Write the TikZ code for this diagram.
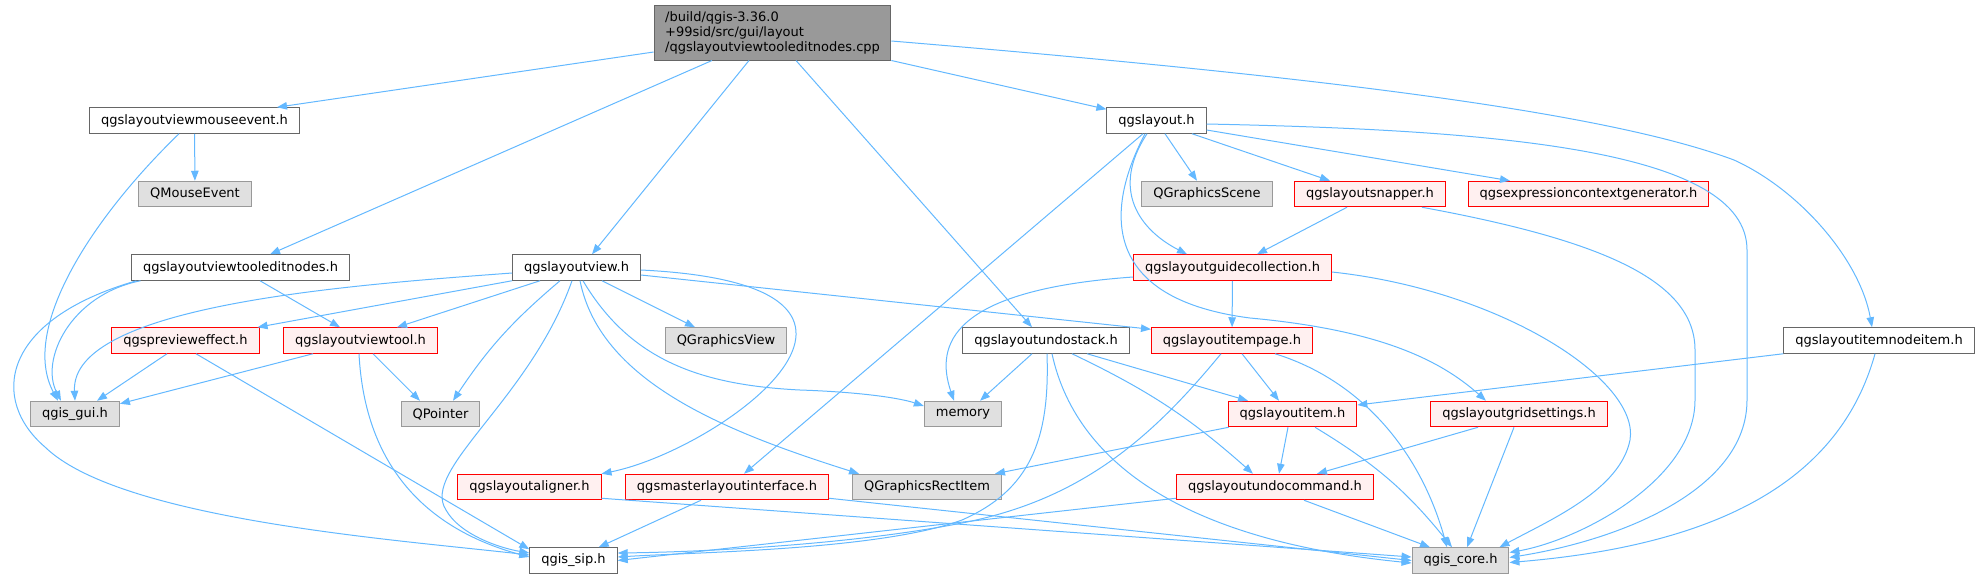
\documentclass[tikz,border=0pt]{standalone}
\usepackage{fontspec}
\setmainfont{DejaVu Sans}
\usetikzlibrary{arrows.meta}

\definecolor{hline}{HTML}{666666}
\definecolor{sysfill}{HTML}{E0E0E0}
\definecolor{sysline}{HTML}{999999}
\definecolor{cutfill}{HTML}{FFF0F0}
\definecolor{rootfill}{HTML}{999999}
\definecolor{rootline}{HTML}{666666}
\definecolor{depline}{HTML}{63B8FF}

\begin{document}
\begin{tikzpicture}[
  x = 1pt, y = -1pt,
  every node/.style = {draw, rectangle, line width = 1pt, minimum height = 25.5pt,
                       inner xsep = 11.5pt, inner ysep = 0pt,
                       font = \fontsize{13}{15}\selectfont},
  hfile/.style = {fill = white, draw = hline},
  sysfile/.style = {fill = sysfill, draw = sysline},
  cutfile/.style = {fill = cutfill, draw = red},
  rootfile/.style = {fill = rootfill, draw = rootline, align = left,
                     minimum height = 55pt, inner xsep = 11pt},
  dep/.style = {draw = depline, line width = 1pt,
                -{Triangle[length = 10pt, width = 7.5pt]}},
  ]
  \useasboundingbox (0,0) rectangle (1980,579);

  \node[rootfile] (root) at (772.5,32.5) {/build/qgis-3.36.0\\+99sid/src/gui/layout\\/qgslayoutviewtooleditnodes.cpp};
  \node[hfile] (mev) at (194.5,120.5) {qgslayoutviewmouseevent.h};
  \node[sysfile] (qme) at (195,194) {QMouseEvent};
  \node[hfile] (ten) at (240.5,267.5) {qgslayoutviewtooleditnodes.h};
  \node[hfile] (lv) at (576.5,267.5) {qgslayoutview.h};
  \node[cutfile] (pre) at (185.5,340.5) {qgspreviewe{}ffect.h};
  \node[cutfile] (vt) at (360.5,340.5) {qgslayoutviewtool.h};
  \node[sysfile] (gui) at (75,414) {qgis\_gui.h};
  \node[sysfile] (qp) at (440.5,414) {QPointer};
  \node[cutfile] (al) at (529.5,487) {qgslayoutaligner.h};
  \node[hfile] (sip) at (573.5,560.5) {qgis\_sip.h};
  \node[cutfile] (mli) at (727,487) {qgsmasterlayoutinterface.h};
  \node[sysfile] (qgv) at (726,340.5) {QGraphicsView};
  \node[sysfile] (qgr) at (927,487) {QGraphicsRectItem};
  \node[sysfile] (mem) at (963,414) {memory};
  \node[hfile] (us) at (1046,340.5) {qgslayoutundostack.h};
  \node[cutfile] (ip) at (1232,340.5) {qgslayoutitempage.h};
  \node[cutfile] (it) at (1292.5,414) {qgslayoutitem.h};
  \node[cutfile] (uc) at (1275,487) {qgslayoutundocommand.h};
  \node[hfile] (lay) at (1156.5,120.5) {qgslayout.h};
  \node[sysfile] (qgs) at (1207,194) {QGraphicsScene};
  \node[cutfile] (sn) at (1370,194) {qgslayoutsnapper.h};
  \node[cutfile] (ecg) at (1588.5,194) {qgsexpressioncontextgenerator.h};
  \node[cutfile] (gc) at (1232.5,267.5) {qgslayoutguidecollection.h};
  \node[cutfile] (gs) at (1519,414) {qgslayoutgridsettings.h};
  \node[hfile] (ni) at (1879,340.5) {qgslayoutitemnodeitem.h};
  \node[sysfile] (core) at (1460.5,560.5) {qgis\_core.h};

  \draw[dep] ([yshift=-19.5pt]root.west) -- ([xshift=82.5pt]mev.north);
  \draw[dep] ([xshift=-60.5pt]root.south) -- ([xshift=29.5pt]ten.north);
  \draw[dep] ([xshift=-23.5pt]root.south) -- ([xshift=15.5pt]lv.north);
  \draw[dep] ([xshift=23.5pt]root.south) -- ([xshift=-14pt]us.north);
  \draw[dep] (root.south east) -- ([yshift=-2pt]lay.north west);
  \draw[dep] ([yshift=-8.5pt]root.east) .. controls (1300,75) and (1600,110) .. (1734,160)
             .. controls (1800,190) and (1860,260) .. ([xshift=-7pt]ni.north);

  \draw[dep] (mev) -- (qme);
  \draw[dep] ([xshift=-15.5pt]mev.south) .. controls (90,220) and (20,330) .. ([xshift=-17pt]gui.north);

  \draw[dep] ([xshift=19.5pt]ten.south) -- ([xshift=-20.5pt]vt.north);
  \draw[dep] ([xshift=-100pt]ten.south) .. controls (70,295) and (40,360) .. ([xshift=-14pt]gui.north);
  \draw[dep] ([xshift=-104pt]ten.south) .. controls (0,320) and (-10,400) .. (45,447)
             .. controls (120,520) and (400,540) .. ([yshift=5.5pt]sip.west);

  \draw[dep] ([yshift=-5.5pt]lv.west) .. controls (350,285) and (70,305) .. (gui.north);
  \draw[dep] (lv.south west) -- ([xshift=-2pt]pre.north east);
  \draw[dep] ([xshift=-36.5pt]lv.south) -- ([xshift=36.5pt]vt.north);
  \draw[dep] ([xshift=-16.5pt]lv.south) to[bend right=8] ([xshift=12.5pt]qp.north);
  \draw[dep] ([xshift=-4.5pt]lv.south) .. controls (530,400) and (420,470) .. (446,510)
             .. controls (460,535) and (500,548) .. ([yshift=7.5pt]sip.west);
  \draw[dep] ([xshift=25.5pt]lv.south) -- ([xshift=-31pt]qgv.north);
  \draw[dep] ([xshift=6.5pt]lv.south) .. controls (630,360) and (700,385) .. (800,390)
             .. controls (860,392) and (900,398) .. ([yshift=8pt]mem.west);
  \draw[dep] ([xshift=3.5pt]lv.south) .. controls (600,380) and (720,430) .. ([xshift=7pt]qgr.north west);
  \draw[dep] ([yshift=-2.5pt]lv.east) .. controls (950,285) and (720,450) .. (al.north east);
  \draw[dep] ([yshift=-7.5pt]lv.east) -- ([yshift=-2pt]ip.north west);

  \draw[dep] ([xshift=-18.5pt]pre.south) -- ([xshift=22pt]gui.north);
  \draw[dep] ([xshift=10.5pt]pre.south) -- ([yshift=-2pt]sip.north west);

  \draw[dep] ([xshift=-47.5pt]vt.south) -- ([yshift=-3pt]gui.north east);
  \draw[dep] ([xshift=12.5pt]vt.south) -- ([xshift=-20.5pt]qp.north);
  \draw[dep] ([xshift=-1.5pt]vt.south) .. controls (365,470) and (430,530) .. ([yshift=3.5pt]sip.west);

  \draw[dep] ([yshift=2pt]al.south east) -- ([yshift=3.5pt]core.west);
  \draw[dep] ([xshift=-26pt]mli.south) -- ([xshift=-19pt]sip.north east);
  \draw[dep] ([yshift=2pt]mli.south east) -- (core.west);

  \draw[dep] ([xshift=8.5pt]lay.south) -- ([xshift=-10pt]qgs.north);
  \draw[dep] ([xshift=35.5pt]lay.south) -- ([xshift=-40pt]sn.north);
  \draw[dep] ([yshift=-9.5pt]lay.east) -- ([xshift=-78.5pt]ecg.north);
  \draw[dep] ([xshift=-9.5pt]lay.south) .. controls (1110,190) and (1140,230) .. ([xshift=-45.5pt]gc.north);
  \draw[dep] ([xshift=-13.5pt]lay.south) -- ([xshift=17pt]mli.north);
  \draw[dep] ([xshift=-11.5pt]lay.south) .. controls (1100,220) and (1110,300) .. (1250,318)
             .. controls (1380,330) and (1440,360) .. ([xshift=-33pt]gs.north);
  \draw[dep] ([yshift=-3.5pt]lay.east) .. controls (1500,130) and (1747,150) .. (1747,250)
             -- (1747,400) .. controls (1747,490) and (1620,540) .. ([yshift=3pt]core.east);

  \draw[dep] ([xshift=-23pt]sn.south) -- ([xshift=24.5pt]gc.north);
  \draw[dep] ([xshift=52pt]sn.south) .. controls (1600,240) and (1695,280) .. (1695,350)
             -- (1695,400) .. controls (1695,480) and (1580,540) .. ([yshift=8pt]core.east);

  \draw[dep] (gc) -- (ip);
  \draw[dep] ([yshift=-9.5pt]gc.west) .. controls (950,290) and (935,345) .. ([xshift=-9pt]mem.north);
  \draw[dep] ([yshift=-4.5pt]gc.east) .. controls (1500,290) and (1640,380) .. (1630,440)
             .. controls (1620,490) and (1550,520) .. ([xshift=-10pt]core.north east);

  \draw[dep] ([xshift=-14pt]us.south) -- ([xshift=17pt]mem.north);
  \draw[dep] ([xshift=41pt]us.south) -- ([xshift=-44.5pt]it.north);
  \draw[dep] ([xshift=26pt]us.south) to[bend left=8] ([xshift=-22pt]uc.north);
  \draw[dep] ([xshift=1pt]us.south) .. controls (1050,440) and (1030,490) .. (962,520)
             .. controls (880,550) and (700,552) .. ([yshift=3.5pt]sip.east);
  \draw[dep] ([xshift=6pt]us.south) .. controls (1075,460) and (1180,540) .. ([yshift=-2.5pt]core.west);

  \draw[dep] ([xshift=10pt]ip.south) -- ([xshift=-13.5pt]it.north);
  \draw[dep] ([xshift=-11pt]ip.south) .. controls (1150,440) and (1080,500) .. (962,523)
             .. controls (850,545) and (700,552) .. ([yshift=7.5pt]sip.east);
  \draw[dep] ([xshift=43pt]ip.south) .. controls (1360,380) and (1420,450) .. ([xshift=-13.5pt]core.north);

  \draw[dep] ([xshift=1pt]it.south west) -- ([xshift=-7pt]qgr.north east);
  \draw[dep] ([xshift=-4.5pt]it.south) -- ([xshift=4pt]uc.north);
  \draw[dep] ([xshift=22.5pt]it.south) to[bend left=10] ([xshift=-8.5pt]core.north);

  \draw[dep] ([yshift=2pt]uc.south west) -- (sip.east);
  \draw[dep] ([xshift=29pt]uc.south) -- ([xshift=-30.5pt]core.north);

  \draw[dep] ([xshift=-41pt]gs.south) -- ([xshift=42pt]uc.north);
  \draw[dep] ([xshift=-5pt]gs.south) -- ([xshift=6.5pt]core.north);

  \draw[dep] (ni.south west) -- ([yshift=9pt]it.east);
  \draw[dep] ([xshift=-4pt]ni.south) .. controls (1840,480) and (1720,545) .. ([yshift=-2pt]core.east);
\end{tikzpicture}
\end{document}
